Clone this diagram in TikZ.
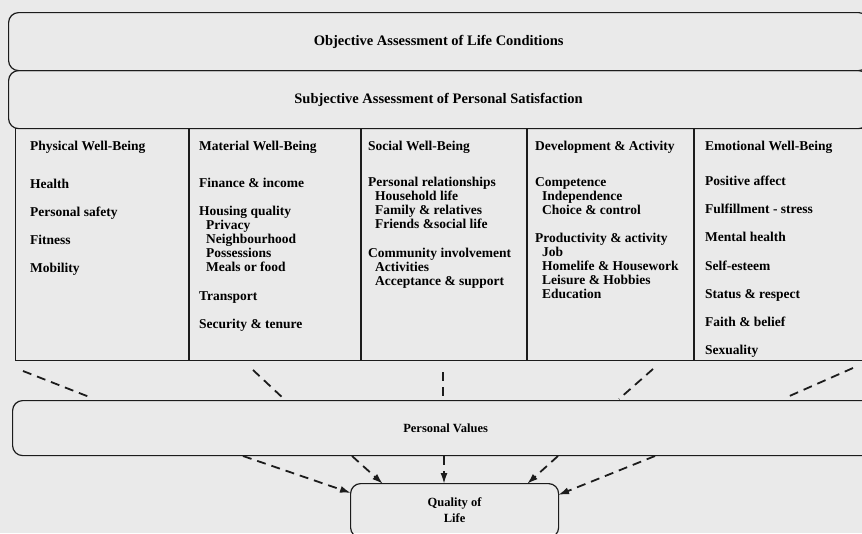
\documentclass[tikz,border=0pt]{standalone}
\usepackage{fontspec}
\setmainfont{Liberation Serif}
\usetikzlibrary{arrows.meta}
\definecolor{paper}{RGB}{234,234,234}
\definecolor{ink}{RGB}{28,28,28}

\begin{document}
\begin{tikzpicture}[x=1pt,y=-1pt,
  frame/.style={draw=ink, line width=1.2pt},
  band/.style={frame, rounded corners=10pt, anchor=north west, inner sep=0pt,
    align=center, font=\bfseries\fontsize{12.5}{16}\selectfont},
  wideband/.style={band, font=\bfseries\fontsize{14.5}{16}\selectfont},
  col/.style={anchor=north west, align=left, inner sep=0pt,
    font=\bfseries\fontsize{13.5}{14}\selectfont},
  link/.style={draw=ink, line width=1.8pt, dash pattern=on 9pt off 6pt},
  feed/.style={link, -{Latex[length=11pt,width=7pt]}}
]
\useasboundingbox (0,0) rectangle (862,533);
\fill[paper] (0,0) rectangle (862,533);

% assessment bands
\node[wideband, minimum width=860pt, minimum height=58pt] (obj) at (8,12)
  {Objective Assessment of Life Conditions};
\node[wideband, minimum width=860pt, minimum height=58pt] (subj) at (8,70)
  {Subjective Assessment of Personal Satisfaction};

% domain table
\node[frame, anchor=north west, inner sep=0pt, minimum width=860pt,
  minimum height=232pt] (tab) at (15,128) {};
\foreach \x in {189,361,527,694}
  \draw[frame] (\x,128) -- (\x,360);

\newcommand{\sub}{\hspace*{7pt}}
\node[col] (phys) at (30,141) {Physical Well-Being\\[24pt]
  Health\\[14pt] Personal safety\\[14pt] Fitness\\[14pt] Mobility};
\node[col] (mat) at (199,141) {Material Well-Being\\[23pt]
  Finance \& income\\[14pt] Housing quality\\ \sub Privacy\\
  \sub Neighbourhood\\ \sub Possessions\\ \sub Meals or food\\[15pt]
  Transport\\[14pt] Security \& tenure};
\node[col] (soc) at (368,141) {Social Well-Being\\[22pt]
  Personal relationships\\ \sub Household life\\ \sub Family \& relatives\\
  \sub Friends \&social life\\[15pt] Community involvement\\
  \sub Activities\\ \sub Acceptance \& support};
\node[col] (dev) at (535,141) {Development \& Activity\\[22pt]
  Competence\\ \sub Independence\\ \sub Choice \& control\\[14pt]
  Productivity \& activity\\ \sub Job\\ \sub Homelife \& Housework\\
  \sub Leisure \& Hobbies\\ \sub Education};
\node[col] (emo) at (705,141) {Emotional Well-Being\\[21pt]
  Positive affect\\[14.2pt] Fulfillment - stress\\[14.2pt] Mental health\\[14.2pt]
  Self-esteem\\[14.2pt] Status \& respect\\[14.2pt] Faith \& belief\\[14.2pt] Sexuality};

% values and outcome
\node[band, minimum width=866pt, minimum height=55pt] (pv) at (12,400) {Personal Values};
\node[band, minimum width=208pt, minimum height=54pt] (qol) at (350,483) {Quality of\\Life};

% dashed links from the domains down to the values band
\coordinate (t1) at (23,371);  \coordinate (v1) at (92,398);
\coordinate (t2) at (253,370); \coordinate (v2) at (284,399);
\coordinate (t3) at (443,372); \coordinate (v3) at (443,399);
\coordinate (t4) at (653,369); \coordinate (v4) at (619,399);
\coordinate (t5) at (853,368); \coordinate (v5) at (785,398);
\foreach \i in {1,...,5}
  \draw[link] (t\i) -- (v\i);

% arrows from the values band into quality of life
\coordinate (p1) at (243,456); \coordinate (q1) at (351,493);
\coordinate (p2) at (352,456); \coordinate (q2) at (383,484);
\coordinate (p3) at (444,456); \coordinate (q3) at (444,484);
\coordinate (p4) at (558,456); \coordinate (q4) at (527,484);
\coordinate (p5) at (655,456); \coordinate (q5) at (558,495);
\foreach \i in {1,...,5}
  \draw[feed] (p\i) -- (q\i);
\end{tikzpicture}
\end{document}
